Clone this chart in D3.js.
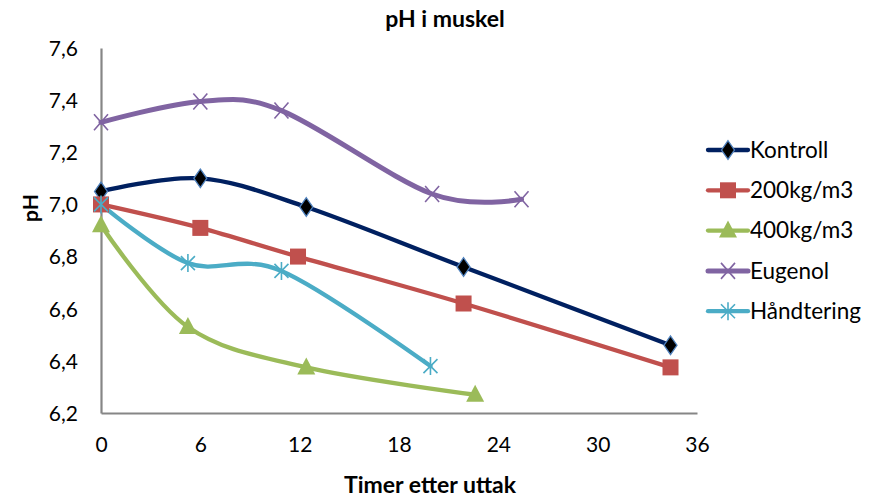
<!DOCTYPE html>
<html><head><meta charset="utf-8">
<script src="https://cdn.jsdelivr.net/npm/d3@7"></script>
<style>body{margin:0;background:#fff}svg{display:block}text{font-family:Lato,"Noto Sans",sans-serif;fill:#000}</style>
</head><body>
<script>
const title = "pH i muskel";
const xLabel = "Timer etter uttak";
const yLabel = "pH";
const xTicks = [0, 6, 12, 18, 24, 30, 36];
const yTicks = [6.2, 6.4, 6.6, 6.8, 7.0, 7.2, 7.4, 7.6];
const seriesNames = ["Kontroll", "200kg/m3", "400kg/m3", "Eugenol", "Håndtering"];
const kontrollX = [0, 6, 12.4, 21.9, 34.4];
const kontrollY = [7.05, 7.10, 6.99, 6.76, 6.46];
const kg200X = [0, 6, 11.9, 21.9, 34.4];
const kg200Y = [7.00, 6.91, 6.80, 6.62, 6.375];
const kg400X = [0, 5.25, 12.4, 22.6];
const kg400Y = [6.92, 6.53, 6.375, 6.27];
const eugenolX = [0, 6, 10.9, 20.0, 25.4];
const eugenolY = [7.315, 7.395, 7.36, 7.04, 7.02];
const handX = [0, 5.25, 10.9, 19.9];
const handY = [7.00, 6.775, 6.745, 6.38];

const W = 884, H = 500;
const svg = d3.select("body").append("svg").attr("width", W).attr("height", H);
const x = d3.scaleLinear().domain([0, 36]).range([101, 697]);
const y = d3.scaleLinear().domain([6.2, 7.6]).range([413, 48]);

const series = [
  {name: seriesNames[0], xs: kontrollX, ys: kontrollY, color: "#002060", marker: "diamond", w: 4.3},
  {name: seriesNames[1], xs: kg200X, ys: kg200Y, color: "#C0504D", marker: "square", w: 4.3},
  {name: seriesNames[2], xs: kg400X, ys: kg400Y, color: "#9BBB59", marker: "triangle", w: 4.3},
  {name: seriesNames[3], xs: eugenolX, ys: eugenolY, color: "#8064A2", marker: "x", w: 5},
  {name: seriesNames[4], xs: handX, ys: handY, color: "#4BACC6", marker: "star", w: 4.3}
];

// axes
const fmt = d => d3.format(".1f")(d).replace(".", ",");
const yAxis = d3.axisLeft(y).tickValues(yTicks).tickFormat(fmt).tickSize(0).tickPadding(23);
const xAxis = d3.axisBottom(x).tickValues(xTicks).tickFormat(d3.format("d")).tickSize(0).tickPadding(24);
const gy = svg.append("g").attr("transform", "translate(101,0)").call(yAxis);
const gx = svg.append("g").attr("transform", "translate(0,413)").call(xAxis);
[gy, gx].forEach(g => {
  g.select(".domain").attr("stroke", "#868686").attr("stroke-width", 2.2);
  g.selectAll("text").style("font-size", "21px").style("font-family", "Lato, sans-serif").attr("fill", "#000");
});
gy.selectAll(".tick text").attr("dy", "0.35em");

// lines
const line = d3.line().x(d => x(d[0])).y(d => y(d[1])).curve(d3.curveCatmullRom.alpha(0));
function drawMarker(g, type, color, cx, cy) {
  if (type === "diamond") {
    g.append("path").attr("d", d3.symbol(d3.symbolDiamond, 110)()).attr("transform", `translate(${cx},${cy}) scale(1.15,0.95)`)
      .attr("fill", "#000").attr("stroke", "#4F81BD").attr("stroke-width", 1.2);
  } else if (type === "square") {
    g.append("rect").attr("x", cx - 8).attr("y", cy - 8).attr("width", 16).attr("height", 16).attr("fill", color);
  } else if (type === "triangle") {
    g.append("path").attr("d", `M${cx},${cy - 10}L${cx + 9},${cy + 7}L${cx - 9},${cy + 7}Z`).attr("fill", color);
  } else if (type === "x") {
    g.append("path").attr("d", `M${cx - 7},${cy - 8}L${cx + 7},${cy + 8}M${cx - 7},${cy + 8}L${cx + 7},${cy - 8}`)
      .attr("stroke", color).attr("stroke-width", 1.6).attr("fill", "none");
  } else if (type === "star") {
    g.append("path").attr("d", `M${cx - 7},${cy - 7}L${cx + 7},${cy + 7}M${cx - 7},${cy + 7}L${cx + 7},${cy - 7}M${cx},${cy - 9}L${cx},${cy + 9}`)
      .attr("stroke", color).attr("stroke-width", 1.6).attr("fill", "none");
  }
}
const plot = svg.append("g");
series.forEach(s => {
  const pts = s.xs.map((v, i) => [v, s.ys[i]]);
  plot.append("path").datum(pts).attr("d", line).attr("fill", "none").attr("stroke", s.color)
    .attr("stroke-width", s.w).attr("stroke-linecap", "round").attr("stroke-linejoin", "round");
});
series.forEach(s => {
  const g = plot.append("g");
  s.xs.forEach((v, i) => drawMarker(g, s.marker, s.color, x(v), y(s.ys[i])));
});

// legend
const leg = svg.append("g");
series.forEach((s, i) => {
  const cy = 150 + i * 40.3;
  leg.append("line").attr("x1", 708).attr("x2", 748).attr("y1", cy).attr("y2", cy)
    .attr("stroke", s.color).attr("stroke-width", s.w).attr("stroke-linecap", "round");
  drawMarker(leg, s.marker, s.color, 728, cy);
  leg.append("text").attr("x", 750).attr("y", cy).attr("dy", "0.35em").style("font-size", "22.5px").text(s.name);
});

// titles
svg.append("text").attr("x", 445).attr("y", 27).attr("text-anchor", "middle").style("font-size", "23px").style("font-weight", "bold").text(title);
svg.append("text").attr("x", 430).attr("y", 493).attr("text-anchor", "middle").style("font-size", "23px").style("font-weight", "bold").text(xLabel);
svg.append("text").attr("transform", "translate(38,208) rotate(-90)").attr("text-anchor", "middle").style("font-size", "21px").style("font-weight", "bold").text(yLabel);
</script>
</body></html>
